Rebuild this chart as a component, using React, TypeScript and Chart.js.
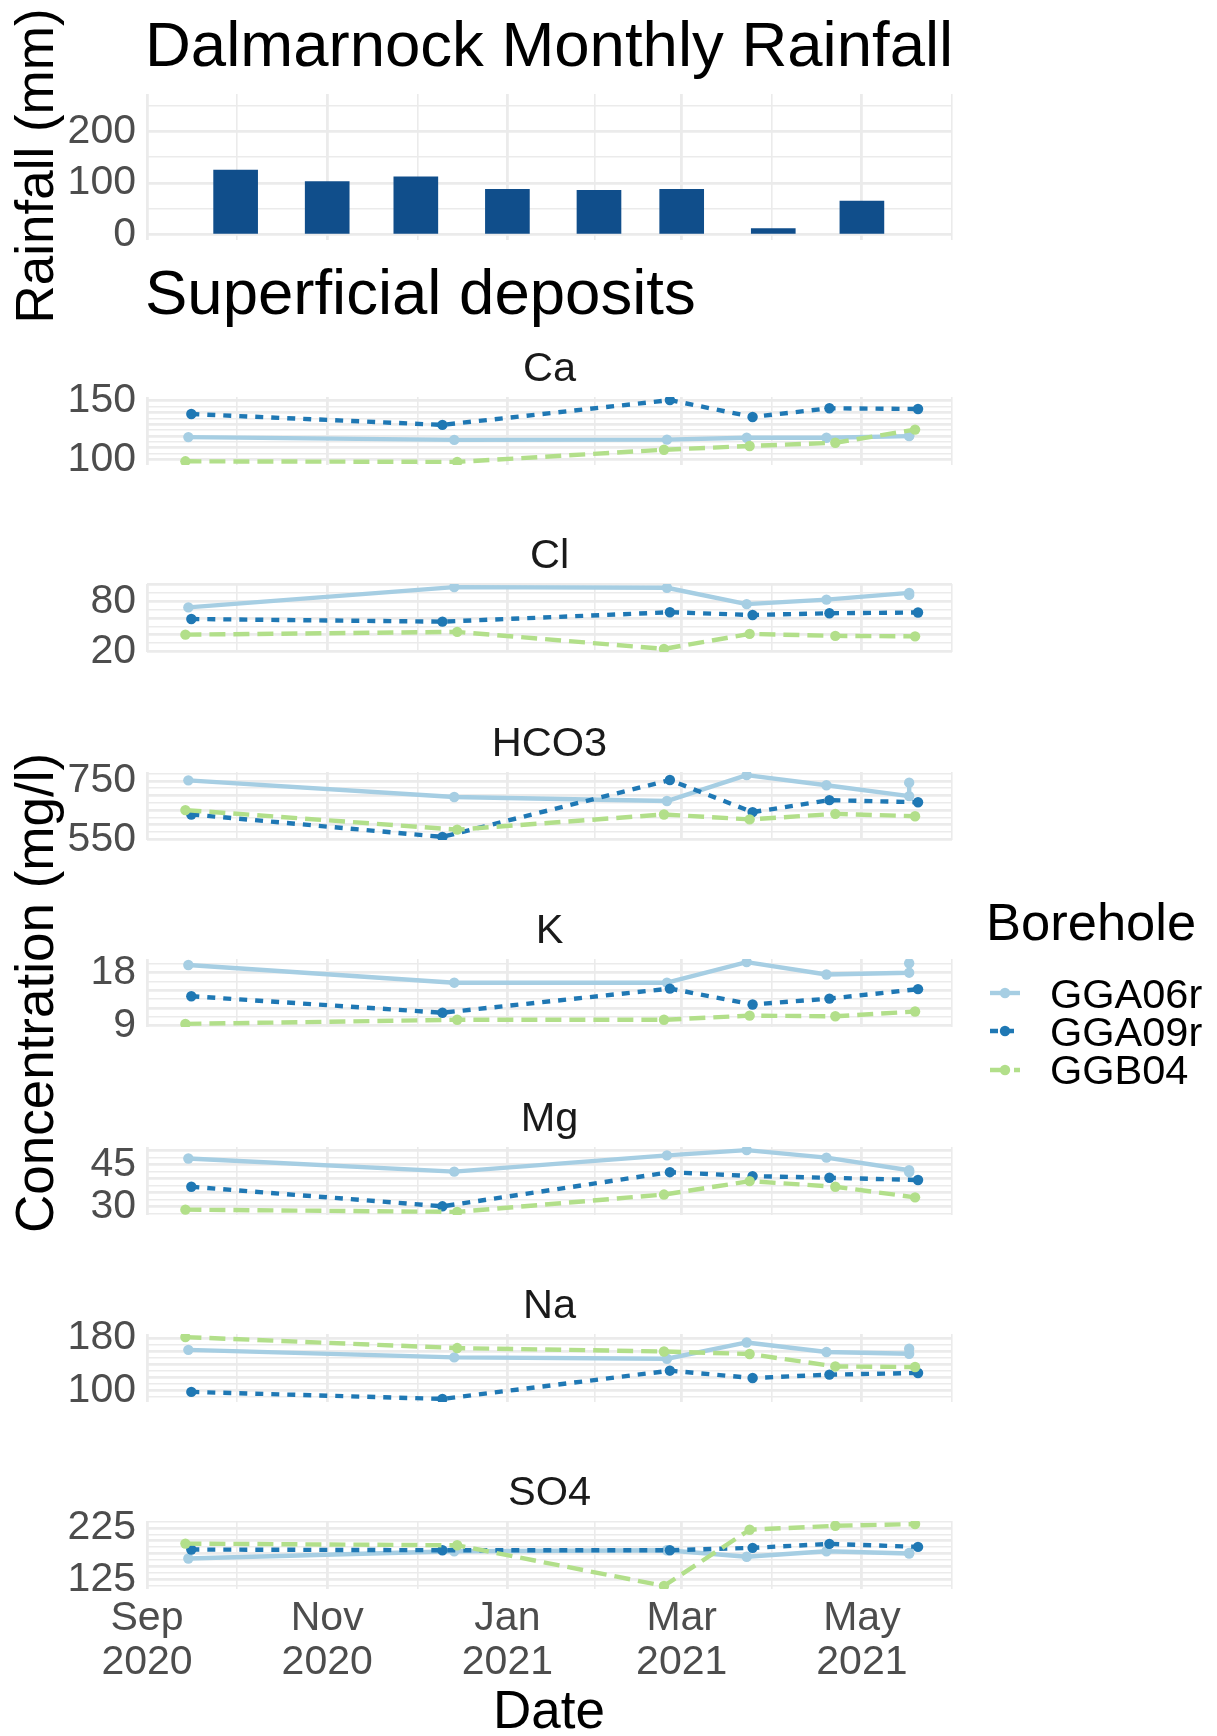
import React, { useEffect, useRef } from "react";
import { Chart, registerables } from "chart.js";

Chart.register(...registerables);

const FONT = '"Liberation Sans", Arial, Helvetica, sans-serif';

// ---------------- data ----------------
// Monthly rainfall (bars centred on the first of each month)
const RAIN_MONTHS = ["2020-10-01", "2020-11-01", "2020-12-01", "2021-01-01", "2021-02-01", "2021-03-01", "2021-04-01", "2021-05-01"];
const RAIN_MM = [125, 103, 112, 88, 86, 88, 12, 65];
const RAIN_TICK_LABELS = [0, 100, 200];

// Date axis
const AXIS_BREAK_DATES = ["2020-09-01", "2020-11-01", "2021-01-01", "2021-03-01", "2021-05-01", "2021-07-01"];
const AXIS_MONTH_LABELS = ["Sep", "Nov", "Jan", "Mar", "May"];
const AXIS_YEAR_LABELS = ["2020", "2020", "2021", "2021", "2021"];

// Boreholes and sampling dates
const BOREHOLES = ["GGA06r", "GGA09r", "GGB04"];
const GGA06R_DATES = ["2020-09-15", "2020-12-14", "2021-02-24", "2021-03-23", "2021-04-19", "2021-05-17", "2021-05-17"];
const GGA09R_DATES = ["2020-09-16", "2020-12-10", "2021-02-25", "2021-03-25", "2021-04-20", "2021-05-20"];
const GGB04_DATES = ["2020-09-14", "2020-12-15", "2021-02-23", "2021-03-24", "2021-04-22", "2021-05-19"];

// Concentrations (mg/l)
const CA_GGA06R = [119, 116.6, 116.8, 118.4, 118.4, 119.8, 120.3];
const CA_GGA09R = [138.7, 129.4, 150.6, 136.2, 143.6, 143];
const CA_GGB04 = [98.3, 97.8, 108.2, 111.4, 114.2, 125.4];
const CA_TICKS = [100, 150];

const CL_GGA06R = [72.8, 97.2, 96.4, 76.8, 82.1, 90.3, 87.8];
const CL_GGA09R = [58.9, 55.7, 67, 63.7, 65.8, 66.7];
const CL_GGB04 = [40.1, 43.4, 23, 41, 38.6, 38.1];
const CL_TICKS = [20, 80];

const HCO3_GGA06R = [752, 695, 681, 770, 735, 698, 744];
const HCO3_GGA09R = [635, 558, 753, 643, 684, 677];
const HCO3_GGB04 = [650, 583, 635, 618, 637, 629];
const HCO3_TICKS = [550, 750];

const K_GGA06R = [19.3, 16.3, 16.3, 19.8, 17.7, 18.0, 19.6];
const K_GGA09R = [14.0, 11.2, 15.3, 12.6, 13.6, 15.2];
const K_GGB04 = [9.3, 10.0, 10.0, 10.7, 10.6, 11.4];
const K_TICKS = [9, 18];

const MG_GGA06R = [47.1, 42.4, 48.2, 50.1, 47.4, 42.9, 42.2];
const MG_GGA09R = [37.0, 30.0, 42.2, 40.8, 40.2, 39.4];
const MG_GGB04 = [28.8, 28.0, 34.2, 39.0, 37.0, 33.2];
const MG_TICKS = [30, 45];

const NA_GGA06R = [162, 150.4, 148.4, 173.3, 158.6, 156, 163.7];
const NA_GGA09R = [97.6, 86.9, 130.1, 118.9, 124, 126.6];
const NA_GGB04 = [181.5, 164.7, 159.5, 155.6, 136.6, 135.7];
const NA_TICKS = [100, 180];

const SO4_GGA06R = [165.6, 179.7, 181.7, 168.9, 179.7, 175.3, 176.5];
const SO4_GGA09R = [183, 181.7, 181.7, 186.3, 194.1, 188.2];
const SO4_GGB04 = [194.6, 191.3, 112, 221.7, 229.4, 232.7];
const SO4_TICKS = [125, 225];

// ---------------- derived ----------------
const DATES = [GGA06R_DATES, GGA09R_DATES, GGB04_DATES];
const COLORS = ["#A6CEE3", "#1F78B4", "#B2DF8A"];
const DASHES: number[][] = [[], [8, 8], [16, 8]];
const SVG_DASH = ["", "8 8", "16 8"];

const FACETS = [
  { name: "Ca", series: [CA_GGA06R, CA_GGA09R, CA_GGB04], ticks: CA_TICKS, step: 5 },
  { name: "Cl", series: [CL_GGA06R, CL_GGA09R, CL_GGB04], ticks: CL_TICKS, step: 10 },
  { name: "HCO3", series: [HCO3_GGA06R, HCO3_GGA09R, HCO3_GGB04], ticks: HCO3_TICKS, step: 25 },
  { name: "K", series: [K_GGA06R, K_GGA09R, K_GGB04], ticks: K_TICKS, step: 1.5 },
  { name: "Mg", series: [MG_GGA06R, MG_GGA09R, MG_GGB04], ticks: MG_TICKS, step: 2.5 },
  { name: "Na", series: [NA_GGA06R, NA_GGA09R, NA_GGB04], ticks: NA_TICKS, step: 10 },
  { name: "SO4", series: [SO4_GGA06R, SO4_GGA09R, SO4_GGB04], ticks: SO4_TICKS, step: 12.5 },
];

const DAY_MS = 86400000;
const ORIGIN = Date.parse(AXIS_BREAK_DATES[0]);
const toDay = (d: string) => (Date.parse(d) - ORIGIN) / DAY_MS;

const BREAK_DAYS = AXIS_BREAK_DATES.map(toDay);
const MAJOR_X = BREAK_DAYS.slice(0, AXIS_MONTH_LABELS.length);
const MINOR_X = BREAK_DAYS.slice(0, -1).map((d, i) => (d + BREAK_DAYS[i + 1]) / 2);
const X_GRID = [...MAJOR_X, ...MINOR_X].sort((a, b) => a - b);
const X_MIN = MAJOR_X[0];
const X_MAX = MINOR_X[MINOR_X.length - 1];

const near = (a: number, b: number) => Math.abs(a - b) < 1e-6;
const isMultiple = (v: number, m: number) => near(v / m, Math.round(v / m));

function expandedRange(series: number[][]) {
  const all = series.flat();
  const lo = Math.min(...all);
  const hi = Math.max(...all);
  const pad = (hi - lo) * 0.05;
  return [lo - pad, hi + pad];
}

function gridValues(min: number, max: number, step: number) {
  const out: number[] = [];
  for (let k = Math.ceil(min / step - 1e-9); k * step <= max + 1e-9; k++) out.push(k * step);
  return out;
}

// ---------------- layout ----------------
const PANEL_LEFT = 147;
const CANVAS_W = 1000;
const PAD_RIGHT = 48; // chart area right edge at 952
const PANEL_H = 68;
const TITLE_H = 52;
const FACET_TOP0 = 397;
const FACET_GAP = 187.4;
const GRID_COLOR = "#EBEBEB";
const TICK_COLOR = "#4D4D4D";
const TICK_SIZE = 41;
const LINE_W = 4.4;
const POINT_R = 5.2;

function xScale(showLabels: boolean, height: number) {
  return {
    type: "linear",
    min: X_MIN,
    max: X_MAX,
    offset: false,
    afterBuildTicks: (s: any) => {
      s.ticks = X_GRID.map((v) => ({ value: v }));
    },
    afterFit: (s: any) => {
      s.height = height;
      s.paddingLeft = 0;
      s.paddingRight = 0;
    },
    ticks: {
      display: showLabels,
      autoSkip: false,
      maxRotation: 0,
      minRotation: 0,
      padding: 8,
      color: TICK_COLOR,
      font: { family: FONT, size: TICK_SIZE, lineHeight: "44px" },
      callback: (v: number) => {
        const idx = MAJOR_X.findIndex((m) => near(m, v));
        return idx >= 0 ? [AXIS_MONTH_LABELS[idx], AXIS_YEAR_LABELS[idx]] : "";
      },
    },
    grid: {
      offset: false,
      color: GRID_COLOR,
      drawTicks: false,
      lineWidth: (ctx: any) => (MAJOR_X.some((m) => near(m, ctx.tick.value)) ? 2.8 : 1.6),
    },
    border: { display: false },
  };
}

function yScale(min: number, max: number, step: number, labels: number[]) {
  const values = gridValues(min, max, step);
  return {
    type: "linear",
    min,
    max,
    afterBuildTicks: (s: any) => {
      s.ticks = values.map((v) => ({ value: v }));
    },
    afterFit: (s: any) => {
      s.width = PANEL_LEFT;
      s.paddingTop = 0;
      s.paddingBottom = 0;
    },
    ticks: {
      autoSkip: false,
      padding: 11,
      color: TICK_COLOR,
      font: { family: FONT, size: TICK_SIZE },
      callback: (v: number) => {
        const l = labels.find((x) => near(x, v));
        return l === undefined ? "" : String(l);
      },
    },
    grid: {
      color: GRID_COLOR,
      drawTicks: false,
      lineWidth: (ctx: any) => (isMultiple(ctx.tick.value, step * 2) ? 2.8 : 1.6),
    },
    border: { display: false },
  };
}

function rainConfig(): any {
  return {
    type: "bar",
    data: {
      datasets: [
        {
          label: "Rainfall",
          data: RAIN_MONTHS.map((d, i) => ({ x: toDay(d), y: RAIN_MM[i] })),
          backgroundColor: "#104E8B",
          borderWidth: 0,
          barThickness: 44,
        },
      ],
    },
    options: {
      animation: false,
      responsive: false,
      maintainAspectRatio: false,
      devicePixelRatio: 1,
      events: [],
      layout: { padding: { left: 0, right: PAD_RIGHT, top: 20, bottom: 30 }, autoPadding: false },
      plugins: { legend: { display: false }, tooltip: { enabled: false }, title: { display: false } },
      scales: {
        x: xScale(false, 0),
        y: yScale(-10, 272, 50, RAIN_TICK_LABELS),
      },
    },
  };
}

function facetConfig(f: (typeof FACETS)[number], isLast: boolean): any {
  const [ymin, ymax] = expandedRange(f.series);
  return {
    type: "line",
    data: {
      datasets: BOREHOLES.map((b, i) => ({
        label: b,
        order: BOREHOLES.length - i,
        data: DATES[i].map((d, j) => ({ x: toDay(d), y: f.series[i][j] })),
        borderColor: COLORS[i],
        backgroundColor: COLORS[i],
        borderWidth: LINE_W,
        borderDash: DASHES[i],
        borderCapStyle: "butt",
        borderJoinStyle: "round",
        pointRadius: POINT_R,
        pointHoverRadius: POINT_R,
        pointBorderWidth: 0,
        pointBackgroundColor: COLORS[i],
        tension: 0,
        fill: false,
      })),
    },
    options: {
      animation: false,
      responsive: false,
      maintainAspectRatio: false,
      devicePixelRatio: 1,
      events: [],
      layout: { padding: { left: 0, right: PAD_RIGHT, top: 0, bottom: isLast ? 0 : 25 }, autoPadding: false },
      plugins: {
        legend: { display: false },
        tooltip: { enabled: false },
        title: {
          display: true,
          text: f.name,
          fullSize: false,
          color: "#1A1A1A",
          font: { family: FONT, size: 41.5, weight: "normal", lineHeight: "50px" },
          padding: { top: 0, bottom: 2 },
        },
      },
      scales: {
        x: xScale(isLast, isLast ? 100 : 0),
        y: yScale(ymin, ymax, f.step, f.ticks),
      },
    },
  };
}

function ChartCanvas({ left, top, width, height, build }: { left: number; top: number; width: number; height: number; build: () => any }) {
  const ref = useRef<HTMLCanvasElement | null>(null);
  useEffect(() => {
    if (!ref.current) return;
    const chart = new Chart(ref.current, build());
    return () => chart.destroy();
  }, []);
  return (
    <canvas
      ref={ref}
      width={width}
      height={height}
      style={{ position: "absolute", left, top, width, height, display: "block" }}
    />
  );
}

const BASE = 0.8465; // baseline offset factor for line-height = font-size

function Txt({ x, baseline, size, color = "#000", center = false, children }: any) {
  return (
    <div
      style={{
        position: "absolute",
        left: x,
        top: baseline - BASE * size,
        fontFamily: FONT,
        fontSize: size,
        lineHeight: `${size}px`,
        color,
        whiteSpace: "nowrap",
        transform: center ? "translateX(-50%)" : undefined,
      }}
    >
      {children}
    </div>
  );
}

function VTxt({ cx, cy, size, children }: any) {
  return (
    <div
      style={{
        position: "absolute",
        left: cx,
        top: cy,
        fontFamily: FONT,
        fontSize: size,
        lineHeight: `${size}px`,
        color: "#000",
        whiteSpace: "nowrap",
        transform: "translate(-50%, -50%) rotate(-90deg)",
      }}
    >
      {children}
    </div>
  );
}

function LegendKey({ i, y }: { i: number; y: number }) {
  return (
    <svg width={32} height={14} style={{ position: "absolute", left: 989, top: y - 7 }}>
      <line x1={1} y1={7} x2={31} y2={7} stroke={COLORS[i]} strokeWidth={LINE_W} strokeDasharray={SVG_DASH[i] || undefined} />
      <circle cx={16} cy={7} r={POINT_R} fill={COLORS[i]} />
    </svg>
  );
}

export default function App() {
  const AXIS_TITLE = 53;
  return (
    <div style={{ position: "absolute", left: 0, top: 0, width: 1217, height: 1736, background: "#fff", overflow: "hidden" }}>
      <Txt x={145} baseline={66.7} size={63.5}>Dalmarnock Monthly Rainfall</Txt>
      <Txt x={145} baseline={314.5} size={63.5}>Superficial deposits</Txt>
      <VTxt cx={52 - 0.3465 * AXIS_TITLE} cy={166} size={AXIS_TITLE}>Rainfall (mm)</VTxt>
      <VTxt cx={52 - 0.3465 * AXIS_TITLE} cy={992.5} size={AXIS_TITLE}>Concentration (mg/l)</VTxt>

      <ChartCanvas left={0} top={74} width={CANVAS_W} height={20 + 146 + 30} build={rainConfig} />

      {FACETS.map((f, i) => {
        const isLast = i === FACETS.length - 1;
        const panelTop = Math.round(FACET_TOP0 + FACET_GAP * i);
        return (
          <ChartCanvas
            key={f.name}
            left={0}
            top={panelTop - TITLE_H}
            width={CANVAS_W}
            height={TITLE_H + PANEL_H + (isLast ? 100 : 25)}
            build={() => facetConfig(f, isLast)}
          />
        );
      })}

      <Txt x={549} baseline={1728} size={AXIS_TITLE} center>Date</Txt>

      <Txt x={986} baseline={940} size={52.5}>Borehole</Txt>
      {BOREHOLES.map((b, i) => (
        <React.Fragment key={b}>
          <LegendKey i={i} y={992.5 + 38.5 * i} />
          <Txt x={1050} baseline={1008 + 38 * i} size={41.5}>{b}</Txt>
        </React.Fragment>
      ))}
    </div>
  );
}
